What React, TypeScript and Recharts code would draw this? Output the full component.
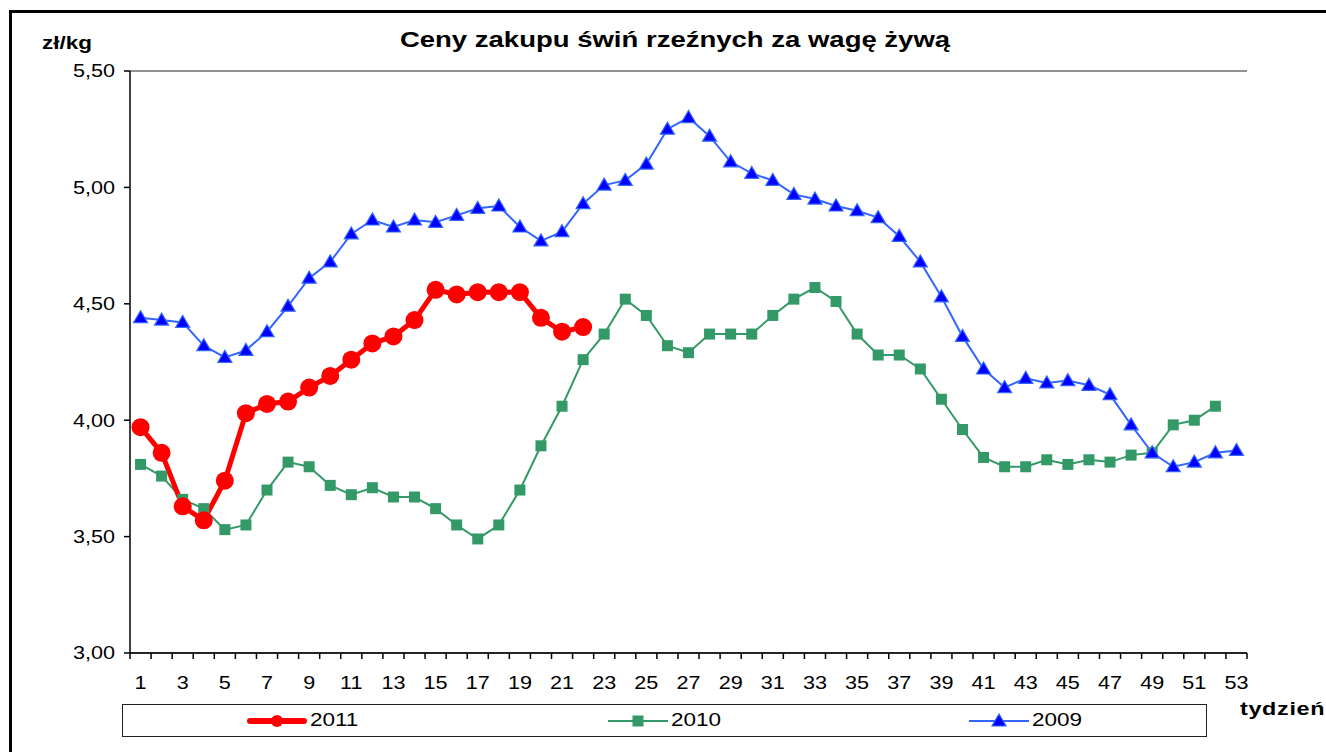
import React from 'react';
import { LineChart, Line, XAxis, YAxis, CartesianGrid } from 'recharts';

// tygodnie 1..53
const weeks = [
  1, 2, 3, 4, 5, 6, 7, 8, 9, 10, 11, 12, 13, 14, 15, 16, 17, 18, 19, 20,
  21, 22, 23, 24, 25, 26, 27, 28, 29, 30, 31, 32, 33, 34, 35, 36, 37, 38, 39, 40,
  41, 42, 43, 44, 45, 46, 47, 48, 49, 50, 51, 52, 53,
];

const prices2011 = [
  3.97, 3.86, 3.63, 3.57, 3.74, 4.03, 4.07, 4.08, 4.14, 4.19, 4.26, 4.33, 4.36, 4.43,
  4.56, 4.54, 4.55, 4.55, 4.55, 4.44, 4.38, 4.40,
];

const prices2010 = [
  3.81, 3.76, 3.66, 3.62, 3.53, 3.55, 3.70, 3.82, 3.80, 3.72, 3.68, 3.71, 3.67, 3.67,
  3.62, 3.55, 3.49, 3.55, 3.70, 3.89, 4.06, 4.26, 4.37, 4.52, 4.45, 4.32, 4.29, 4.37,
  4.37, 4.37, 4.45, 4.52, 4.57, 4.51, 4.37, 4.28, 4.28, 4.22, 4.09, 3.96, 3.84, 3.80,
  3.80, 3.83, 3.81, 3.83, 3.82, 3.85, 3.86, 3.98, 4.00, 4.06,
];

const prices2009 = [
  4.44, 4.43, 4.42, 4.32, 4.27, 4.30, 4.38, 4.49, 4.61, 4.68, 4.80, 4.86, 4.83, 4.86,
  4.85, 4.88, 4.91, 4.92, 4.83, 4.77, 4.81, 4.93, 5.01, 5.03, 5.10, 5.25, 5.30, 5.22,
  5.11, 5.06, 5.03, 4.97, 4.95, 4.92, 4.90, 4.87, 4.79, 4.68, 4.53, 4.36, 4.22, 4.14,
  4.18, 4.16, 4.17, 4.15, 4.11, 3.98, 3.86, 3.80, 3.82, 3.86, 3.87,
];

const yTicks = [3, 3.5, 4, 4.5, 5, 5.5];

const FONT = '"Liberation Sans", Arial, sans-serif';
// the original picture is a bit wider than tall, so its text looks stretched
const STRETCH = 1.2;

const data = weeks.map((w, i) => ({
  week: w,
  y2011: prices2011[i],
  y2010: prices2010[i],
  y2009: prices2009[i],
}));

// ticks at category edges (half weeks) for tick marks, integer weeks for labels
const xTicks = [...weeks.flatMap(w => [w - 0.5, w]), weeks[weeks.length - 1] + 0.5];

const XTick = (props: any) => {
  const { x, y, payload } = props;
  const v = payload.value;
  if (Number.isInteger(v)) {
    if (v % 2 === 0) return <g />;
    return (
      <text
        transform={`translate(${x},${y + 36}) scale(${STRETCH},1)`}
        textAnchor="middle"
        fontSize={18}
        fill="#000"
        fontFamily={FONT}
      >
        {v}
      </text>
    );
  }
  return <line x1={x} x2={x} y1={y} y2={y + 6} stroke="#000" strokeWidth={1.5} />;
};

const YTick = (props: any) => {
  const { x, y, payload } = props;
  return (
    <text
      transform={`translate(${x},${y}) scale(${STRETCH},1)`}
      textAnchor="end"
      dy="0.35em"
      fontSize={18}
      fill="#000"
      fontFamily={FONT}
    >
      {payload.value.toFixed(2).replace('.', ',')}
    </text>
  );
};

const SquareDot = (props: any) => {
  const { cx, cy, index } = props;
  if (cx == null || cy == null) return <g key={`sq-${index}`} />;
  return <rect key={`sq-${index}`} x={cx - 5.5} y={cy - 5.5} width={11} height={11} fill="#339966" />;
};

const TriangleDot = (props: any) => {
  const { cx, cy, index } = props;
  if (cx == null || cy == null) return <g key={`tr-${index}`} />;
  return (
    <polygon
      key={`tr-${index}`}
      points={`${cx},${cy - 7} ${cx - 7},${cy + 5} ${cx + 7},${cy + 5}`}
      fill="#0000FF"
      stroke="#3366FF"
      strokeWidth={1.2}
    />
  );
};

const legendItems = [
  { name: '2011', kind: 'circle' },
  { name: '2010', kind: 'square' },
  { name: '2009', kind: 'triangle' },
];

const LegendIcon = ({ kind }: { kind: string }) => (
  <svg width={60} height={20} style={{ display: 'block' }}>
    {kind === 'circle' && (
      <>
        <line x1={3} x2={57} y1={10} y2={10} stroke="#FF0000" strokeWidth={6} strokeLinecap="round" />
        <circle cx={30} cy={10} r={6} fill="#FF0000" />
      </>
    )}
    {kind === 'square' && (
      <>
        <line x1={0} x2={60} y1={10} y2={10} stroke="#339966" strokeWidth={2} />
        <rect x={24.5} y={4.5} width={11} height={11} fill="#339966" />
      </>
    )}
    {kind === 'triangle' && (
      <>
        <line x1={0} x2={60} y1={10} y2={10} stroke="#3366FF" strokeWidth={2} />
        <polygon points="30,3 23,15 37,15" fill="#0000FF" stroke="#3366FF" strokeWidth={1.2} />
      </>
    )}
  </svg>
);

const stretched = (s: number): React.CSSProperties => ({
  display: 'inline-block',
  transform: `scaleX(${s})`,
  transformOrigin: 'left center',
  whiteSpace: 'nowrap',
});

export default function App() {
  return (
    <div
      style={{
        position: 'absolute',
        left: 0,
        top: 0,
        width: 1326,
        height: 752,
        overflow: 'hidden',
        background: '#fff',
        fontFamily: FONT,
        color: '#000',
      }}
    >
      <div
        style={{
          position: 'absolute',
          left: 9,
          top: 10,
          width: 1400,
          height: 800,
          border: '3px solid #000',
          boxSizing: 'border-box',
        }}
      />
      <div
        style={{
          position: 'absolute',
          left: 675,
          top: 27,
          fontSize: 22,
          fontWeight: 'bold',
          whiteSpace: 'nowrap',
          transform: 'translateX(-50%) scaleX(1.25)',
        }}
      >
        Ceny zakupu świń rzeźnych za wagę żywą
      </div>
      <div style={{ position: 'absolute', left: 42, top: 33, fontSize: 18, fontWeight: 'bold' }}>
        <span style={stretched(1.25)}>zł/kg</span>
      </div>
      <div style={{ position: 'absolute', left: 1240, top: 699, fontSize: 18, fontWeight: 'bold' }}>
        <span style={{ ...stretched(1.3), letterSpacing: 0.5 }}>tydzień</span>
      </div>

      <div style={{ position: 'absolute', left: 0, top: 0 }}>
        <LineChart width={1326} height={752} data={data} margin={{ top: 71, right: 79, bottom: 59, left: 0 }}>
          <CartesianGrid horizontal vertical={false} stroke="#6e6e6e" strokeWidth={1.3} />
          <XAxis
            dataKey="week"
            type="number"
            domain={[0.5, 53.5]}
            ticks={xTicks}
            interval={0}
            tick={<XTick />}
            tickLine={false}
            tickSize={0}
            tickMargin={0}
            height={40}
            axisLine={{ stroke: '#000', strokeWidth: 1.5 }}
          />
          <YAxis
            yAxisId="left"
            domain={[3, 5.5]}
            ticks={yTicks}
            interval={0}
            width={130}
            tickSize={6}
            tickMargin={9}
            tick={<YTick />}
            axisLine={{ stroke: '#000', strokeWidth: 1.5 }}
            tickLine={{ stroke: '#000', strokeWidth: 1.5 }}
          />
          <YAxis
            yAxisId="right"
            orientation="right"
            domain={[3, 5.5]}
            width={0}
            tick={false}
            tickLine={false}
            axisLine={{ stroke: '#9a9a9a', strokeWidth: 2 }}
          />
          <Line
            yAxisId="left"
            type="linear"
            dataKey="y2010"
            stroke="#339966"
            strokeWidth={2}
            dot={<SquareDot />}
            isAnimationActive={false}
          />
          <Line
            yAxisId="left"
            type="linear"
            dataKey="y2009"
            stroke="#3366FF"
            strokeWidth={2}
            dot={<TriangleDot />}
            isAnimationActive={false}
          />
          <Line
            yAxisId="left"
            type="linear"
            dataKey="y2011"
            stroke="#FF0000"
            strokeWidth={5}
            dot={{ r: 9, fill: '#FF0000', stroke: '#FF0000', strokeWidth: 0 }}
            isAnimationActive={false}
          />
        </LineChart>
      </div>

      <div
        style={{
          position: 'absolute',
          left: 122,
          top: 704,
          width: 1085,
          height: 33,
          border: '1.5px solid #222',
          boxSizing: 'border-box',
          display: 'flex',
          background: '#fff',
        }}
      >
        {legendItems.map(item => (
          <div
            key={item.name}
            style={{ flex: 1, display: 'flex', alignItems: 'center', justifyContent: 'center' }}
          >
            <LegendIcon kind={item.kind} />
            <span style={{ fontSize: 18, width: 51, marginLeft: 3 }}>
              <span style={stretched(1.25)}>{item.name}</span>
            </span>
          </div>
        ))}
      </div>
    </div>
  );
}
